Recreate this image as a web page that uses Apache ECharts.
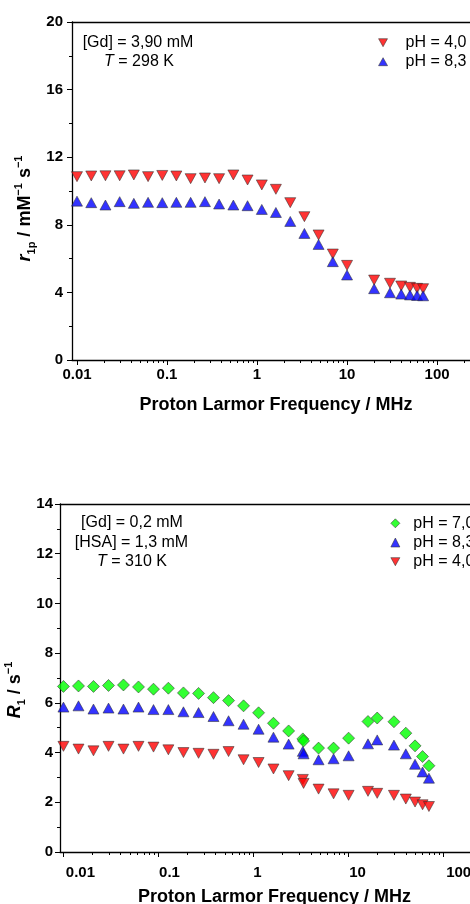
<!DOCTYPE html>
<html>
<head>
<meta charset="utf-8">
<script src="https://cdn.jsdelivr.net/npm/echarts@6/dist/echarts.min.js"></script>
<style>html,body{margin:0;padding:0;background:#fff}#c{width:470px;height:904px}</style>
</head>
<body>
<div id="c"></div>
<script>
const FONT = '"Liberation Sans", Arial, Helvetica, sans-serif';

// Tick positions / labels (MHz)
const majorTicks = [0.01, 0.1, 1, 10, 100];
const majorTickLabels = ['0.01', '0.1', '1', '10', '100'];
const minorTicks = [0.02,0.03,0.04,0.05,0.06,0.07,0.08,0.09,
                    0.2,0.3,0.4,0.5,0.6,0.7,0.8,0.9,
                    2,3,4,5,6,7,8,9,
                    20,30,40,50,60,70,80,90,200];

// Top panel: r1p / mM-1 s-1, [Gd] = 3,90 mM, T = 298 K
const topFreq = [0.01,0.0144,0.0207,0.0298,0.0428,0.0616,0.0886,0.127,0.183,0.264,0.379,0.546,0.785,1.13,1.62,2.34,3.36,4.83,6.95,10,20,30,40,50,60,70];
const topPH40 = [10.85,10.89,10.90,10.90,10.95,10.85,10.92,10.89,10.73,10.77,10.73,10.95,10.65,10.36,10.10,9.31,8.48,7.40,6.27,5.60,4.73,4.54,4.38,4.30,4.24,4.22];
const topPH83 = [9.40,9.31,9.17,9.37,9.27,9.33,9.31,9.33,9.33,9.37,9.23,9.17,9.13,8.91,8.73,8.20,7.49,6.84,5.82,5.03,4.22,3.98,3.90,3.85,3.82,3.80];

// Bottom panel: R1 / s-1, [Gd] = 0,2 mM, [HSA] = 1,3 mM, T = 310 K
const botFreq = [0.01,0.0144,0.0207,0.0298,0.0428,0.0616,0.0886,0.127,0.183,0.264,0.379,0.546,0.785,1.13,1.62,2.34,3.3,3.36,4.83,6.95,10,16,20,30,40,50,60,70];
const botPH70 = [6.66,6.68,6.66,6.70,6.72,6.64,6.55,6.59,6.40,6.38,6.21,6.09,5.88,5.60,5.18,4.87,4.55,4.47,4.18,4.18,4.58,5.25,5.39,5.24,4.78,4.27,3.84,3.47];
const botPH83 = [5.83,5.88,5.75,5.79,5.75,5.83,5.73,5.73,5.64,5.61,5.45,5.28,5.14,4.94,4.62,4.34,4.05,3.95,3.71,3.75,3.87,4.35,4.51,4.30,3.95,3.53,3.22,2.97];
const botPH40 = [4.25,4.14,4.07,4.25,4.14,4.25,4.22,4.11,4.00,3.97,3.93,4.04,3.71,3.60,3.34,3.07,2.92,2.76,2.53,2.34,2.28,2.44,2.36,2.28,2.13,2.01,1.90,1.83];

const zip = (xs, ys) => xs.map((x, i) => [x, ys[i]]);
const labelIndex = v => Math.round(Math.log10(v)) + 2;

const axisLineStyle = {color: '#000', width: 1.3};
const tickLabelStyle = {fontFamily: FONT, fontSize: 15, fontWeight: 'bold', color: '#000'};
const border = {borderColor: '#333', borderWidth: 0.7};
const RED = '#ff0000', BLUE = '#0000ff', GREEN = '#00ff00';
const DOWN_TRI = 'path://M0,0 L10,0 L5,9 Z';

function xAxesFor(gi, min, max, margin, rich) {
  return [
    {
      type: 'log', gridIndex: gi, position: 'bottom', min: min, max: max, logBase: 10,
      axisLine: {show: true, lineStyle: axisLineStyle},
      axisTick: {show: true, inside: false, length: 5, lineStyle: {color: '#000', width: 1}, customValues: majorTicks},
      axisLabel: Object.assign({
        show: true, margin: margin, customValues: majorTicks,
        formatter: rich ? (v => '{b' + labelIndex(v) + '|' + majorTickLabels[labelIndex(v)] + '}')
                        : (v => majorTickLabels[labelIndex(v)]),
        rich: rich || undefined
      }, tickLabelStyle),
      splitLine: {show: false}, minorTick: {show: false},
      name: 'Proton Larmor Frequency / MHz', nameLocation: 'middle', nameGap: 36,
      nameTextStyle: {fontFamily: FONT, fontSize: 18, fontWeight: 'bold', color: '#000'}
    },
    {
      type: 'log', gridIndex: gi, position: 'bottom', min: min, max: max, logBase: 10,
      axisLine: {show: false},
      axisTick: {show: true, inside: false, length: 3, lineStyle: {color: '#000', width: 1}, customValues: minorTicks},
      axisLabel: {show: false}, splitLine: {show: false}
    },
    {
      type: 'value', gridIndex: gi, position: 'top', min: 0, max: 1,
      axisLine: {show: true, lineStyle: axisLineStyle},
      axisTick: {show: false}, axisLabel: {show: false}, splitLine: {show: false}
    }
  ];
}

function yAxisFor(gi, max, interval, margin) {
  return {
    type: 'value', gridIndex: gi, min: 0, max: max, interval: interval,
    axisLine: {show: true, lineStyle: axisLineStyle},
    axisTick: {show: true, inside: false, length: 5, lineStyle: {color: '#000', width: 1}},
    minorTick: {show: true, splitNumber: 2, length: 3, lineStyle: {color: '#000', width: 1}},
    axisLabel: Object.assign({margin: margin}, tickLabelStyle),
    splitLine: {show: false}, minorSplitLine: {show: false}
  };
}

const botRich = {};
const botPads = [34, 22, 8, 18, 30];
botPads.forEach((p, i) => {
  botRich['b' + i] = Object.assign({padding: [0, 0, 0, p]}, tickLabelStyle);
});

const chart = echarts.init(document.getElementById('c'), null, {renderer: 'canvas'});

const legendText = pad => ({fontFamily: FONT, fontSize: 16, color: '#000', lineHeight: 16, padding: [0, 0, 0, pad]});

const option = {
  animation: false,
  backgroundColor: '#fff',
  grid: [
    {left: 72, top: 22, width: 408, height: 338, outerBoundsMode: 'none', containLabel: false},
    {left: 60, top: 504, width: 429, height: 348, outerBoundsMode: 'none', containLabel: false}
  ],
  xAxis: [].concat(
    xAxesFor(0, 0.0088, 300, 7, null),
    xAxesFor(1, 0.0092, 300, 13, botRich)
  ),
  yAxis: [
    yAxisFor(0, 20, 4, 9),
    yAxisFor(1, 14, 2, 7)
  ],
  legend: [
    {
      data: [
        {name: 'pH = 4,0', icon: DOWN_TRI, itemStyle: Object.assign({color: RED}, border)},
        {name: 'pH = 8,3', icon: 'triangle', itemStyle: Object.assign({color: BLUE}, border)}
      ],
      orient: 'vertical', left: 378.2, top: 34.7, padding: 0,
      itemWidth: 9, itemHeight: 8, itemGap: 3, selectedMode: false,
      textStyle: legendText(13)
    },
    {
      data: [
        {name: 'pH = 7,0', icon: 'diamond', itemStyle: Object.assign({color: GREEN}, border)},
        {name: 'pH = 8,3', icon: 'triangle', itemStyle: Object.assign({color: BLUE}, border)},
        {name: 'pH = 4,0', icon: DOWN_TRI, itemStyle: Object.assign({color: RED}, border)}
      ],
      orient: 'vertical', left: 390.5, top: 515.3, padding: 0,
      itemWidth: 9, itemHeight: 9, itemGap: 3.2, selectedMode: false,
      textStyle: legendText(8.5)
    }
  ],
  series: [
    {name: 'pH = 4,0', type: 'scatter', xAxisIndex: 0, yAxisIndex: 0, data: zip(topFreq, topPH40),
     symbol: 'triangle', symbolRotate: 180, symbolSize: [11, 10],
     itemStyle: Object.assign({color: RED}, border), emphasis: {disabled: true}},
    {name: 'pH = 8,3', type: 'scatter', xAxisIndex: 0, yAxisIndex: 0, data: zip(topFreq, topPH83),
     symbol: 'triangle', symbolSize: [11, 10],
     itemStyle: Object.assign({color: BLUE}, border), emphasis: {disabled: true}},
    {name: 'pH = 7,0', type: 'scatter', xAxisIndex: 3, yAxisIndex: 1, data: zip(botFreq, botPH70),
     symbol: 'diamond', symbolSize: [12, 12],
     itemStyle: Object.assign({color: GREEN}, border), emphasis: {disabled: true}},
    {name: 'pH = 8,3', type: 'scatter', xAxisIndex: 3, yAxisIndex: 1, data: zip(botFreq, botPH83),
     symbol: 'triangle', symbolSize: [11, 10],
     itemStyle: Object.assign({color: BLUE}, border), emphasis: {disabled: true}},
    {name: 'pH = 4,0', type: 'scatter', xAxisIndex: 3, yAxisIndex: 1, data: zip(botFreq, botPH40),
     symbol: 'triangle', symbolRotate: 180, symbolSize: [11, 10],
     itemStyle: Object.assign({color: RED}, border), emphasis: {disabled: true}}
  ],
  graphic: [
    // top annotation
    {type: 'text', x: 138, y: 43, style: {text: '[Gd] = 3,90 mM', fontFamily: FONT, fontSize: 16, fill: '#000', align: 'center', verticalAlign: 'middle'}},
    {type: 'text', x: 139, y: 62, style: {text: '{i|T} = 298 K', fontFamily: FONT, fontSize: 16, fill: '#000', align: 'center', verticalAlign: 'middle',
      rich: {i: {fontFamily: FONT, fontSize: 16, fontStyle: 'italic', fill: '#000'}}}},
    // bottom annotation
    {type: 'text', x: 132, y: 523, style: {text: '[Gd] = 0,2 mM', fontFamily: FONT, fontSize: 16, fill: '#000', align: 'center', verticalAlign: 'middle'}},
    {type: 'text', x: 131.5, y: 543, style: {text: '[HSA] = 1,3 mM', fontFamily: FONT, fontSize: 16, fill: '#000', align: 'center', verticalAlign: 'middle'}},
    {type: 'text', x: 132, y: 562, style: {text: '{i|T} = 310 K', fontFamily: FONT, fontSize: 16, fill: '#000', align: 'center', verticalAlign: 'middle',
      rich: {i: {fontFamily: FONT, fontSize: 16, fontStyle: 'italic', fill: '#000'}}}},
    // top y-axis name
    {type: 'text', x: 25.5, y: 208.5, rotation: Math.PI / 2, style: {
      text: '{ri|r}{sub|1p}{n| / mM}{sup|\u22121}{n| s}{sup|\u22121}',
      align: 'center', verticalAlign: 'middle', fill: '#000', fontFamily: FONT, fontSize: 18, fontWeight: 'bold',
      rich: {
        ri: {fontFamily: FONT, fontSize: 18, fontWeight: 'bold', fontStyle: 'italic', lineHeight: 24, fill: '#000'},
        n: {fontFamily: FONT, fontSize: 18, fontWeight: 'bold', lineHeight: 24, fill: '#000'},
        sub: {fontFamily: FONT, fontSize: 11, fontWeight: 'bold', lineHeight: 11, verticalAlign: 'bottom', fill: '#000'},
        sup: {fontFamily: FONT, fontSize: 11, fontWeight: 'bold', lineHeight: 11, verticalAlign: 'top', fill: '#000'}
      }}},
    // bottom y-axis name
    {type: 'text', x: 15.5, y: 690, rotation: Math.PI / 2, style: {
      text: '{ri|R}{sub|1}{n| / s}{sup|\u22121}',
      align: 'center', verticalAlign: 'middle', fill: '#000', fontFamily: FONT, fontSize: 18, fontWeight: 'bold',
      rich: {
        ri: {fontFamily: FONT, fontSize: 18, fontWeight: 'bold', fontStyle: 'italic', lineHeight: 24, fill: '#000'},
        n: {fontFamily: FONT, fontSize: 18, fontWeight: 'bold', lineHeight: 24, fill: '#000'},
        sub: {fontFamily: FONT, fontSize: 11, fontWeight: 'bold', lineHeight: 11, verticalAlign: 'bottom', fill: '#000'},
        sup: {fontFamily: FONT, fontSize: 11, fontWeight: 'bold', lineHeight: 11, verticalAlign: 'top', fill: '#000'}
      }}}
  ]
};

chart.setOption(option);
</script>
</body>
</html>
